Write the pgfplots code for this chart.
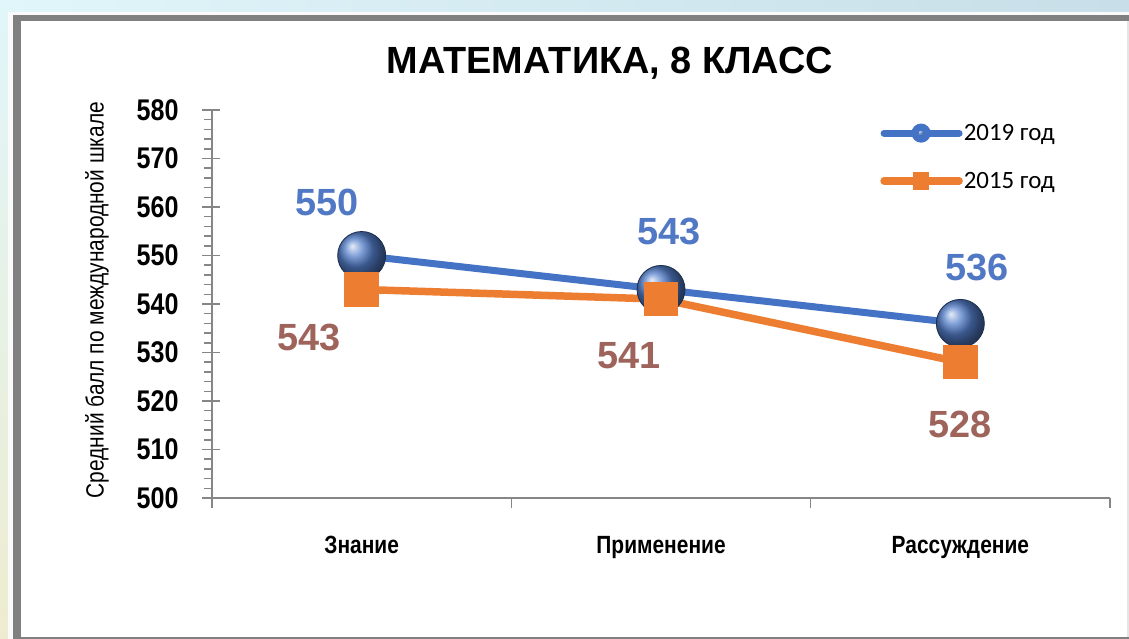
\documentclass[border=0pt]{standalone}
\usepackage{pgfplots}
\pgfplotsset{compat=1.18}
\usepackage{pgfplotstable}
\usepackage{fontspec}
\setmainfont{Liberation Sans}
\newfontfamily\narrowfont{Liberation Sans}[FakeStretch=0.84]
\newfontfamily\legfont{Carlito}
\definecolor{cA}{RGB}{68,114,196}
\definecolor{cB}{RGB}{237,125,49}
\definecolor{labA}{RGB}{80,120,196}
\definecolor{labB}{RGB}{158,100,92}
\definecolor{axgray}{RGB}{134,134,134}
\definecolor{frame}{RGB}{128,128,128}
\pgfplotsset{/pgf/number format/assume math mode=true}

\pgfplotstableread{
x y dx dy
0 550 -35 53
1 543 8 58
2 536 17 56
}\tA
\pgfplotstableread{
x y dx dy
0 543 -53 -48
1 541 -32 -57
2 528 0 -62
}\tB

\begin{document}
\begin{tikzpicture}
\useasboundingbox (0,0) rectangle (1129bp,639bp);
\shade[left color={rgb,255:red,224;green,246;blue,250}, right color={rgb,255:red,200;green,222;blue,232}] (0,0) rectangle (1129bp,639bp);
\shade[top color={rgb,255:red,224;green,246;blue,250}, bottom color={rgb,255:red,238;green,236;blue,208}] (0,0) rectangle (8bp,639bp);
\fill[white!96!gray] (8bp,0) rectangle (1129bp,627bp);
\fill[frame] (13bp,0) rectangle (1129bp,624bp);
\fill[white!80!gray] (21bp,2bp) rectangle (1129bp,618bp);
\fill[white] (21bp,2bp) rectangle (1127bp,618bp);
\begin{axis}[
  at={(212bp,141bp)}, anchor=south west, scale only axis,
  width=898bp, height=388bp,
  xmin=-0.5, xmax=2.5, ymin=500, ymax=580,
  axis lines=left,
  axis line style={axgray, line width=2.5bp, -},
  clip=false,
  xtick={-0.5,0.5,1.5,2.5},
  xticklabels={Знание,Применение,Рассуждение,},
  xticklabel style={font=\narrowfont\bfseries\fontsize{25}{25}\selectfont, xshift=149.7bp, yshift=-25bp},
  ytick={500,510,...,580},
  minor y tick num=4,
  tick align=outside,
  major tick length=10bp,
  minor tick length=8bp,
  every tick/.style={axgray, line width=1.5bp},
  extra y ticks={500,510,...,580},
  extra y tick labels={},
  extra y tick style={tick align=inside, major tick length=8bp},
  yticklabel style={font=\narrowfont\bfseries\fontsize{30}{30}\selectfont, xshift=-20bp},
  ylabel={Средний балл по международной шкале},
  ylabel style={font=\narrowfont\fontsize{25}{25}\selectfont, at={(axis description cs:-0.128,0.51)}, anchor=center},
  title={МАТЕМАТИКА, 8 КЛАСС},
  title style={font=\bfseries\fontsize{38}{38}\selectfont, at={(axis description cs:0.443,1.106)}, anchor=center},
  legend style={at={(axis description cs:0.744,0.879)}, anchor=west, draw=none, fill=none,
    font=\legfont\fontsize{25}{25}\selectfont, row sep=28bp, inner sep=0pt,
    nodes={inner sep=1bp}},
  legend cell align=left,
  point meta=y,
  nodes near coords={\pgfmathprintnumber{\pgfplotspointmeta}},
]
\addplot[cA, line width=7bp, mark=ball, mark size=24bp, mark options={ball color=cA!92!white, draw=cA!40!black, line width=0.8bp},
  visualization depends on={\thisrow{dx}\as\dx},
  visualization depends on={\thisrow{dy}\as\dy},
  every node near coord/.append style={anchor=center, xshift={\dx*1bp}, yshift={\dy*1bp}, font=\bfseries\fontsize{38}{38}\selectfont, text=labA},
  legend image code/.code={\draw[cA, line width=7bp, line cap=round] (0bp,0bp) -- (75bp,0bp); \shade[ball color=cA!92!white] (37bp,0bp) circle (6bp);}
] table[x=x,y=y] {\tA};
\addlegendentry{2019 год}
\addplot[cB, line width=7.5bp, mark=square*, mark size=13.5bp, mark options={fill=cB, draw=none},
  visualization depends on={\thisrow{dx}\as\dx},
  visualization depends on={\thisrow{dy}\as\dy},
  every node near coord/.append style={anchor=center, xshift={\dx*1bp}, yshift={\dy*1bp}, font=\bfseries\fontsize{38}{38}\selectfont, text=labB},
  legend image code/.code={\draw[cB, line width=7.5bp, line cap=round] (0bp,0bp) -- (75bp,0bp); \fill[cB] (33bp,-5bp) rectangle (41bp,5bp);}
] table[x=x,y=y] {\tB};
\addlegendentry{2015 год}
\end{axis}
\end{tikzpicture}
\end{document}
